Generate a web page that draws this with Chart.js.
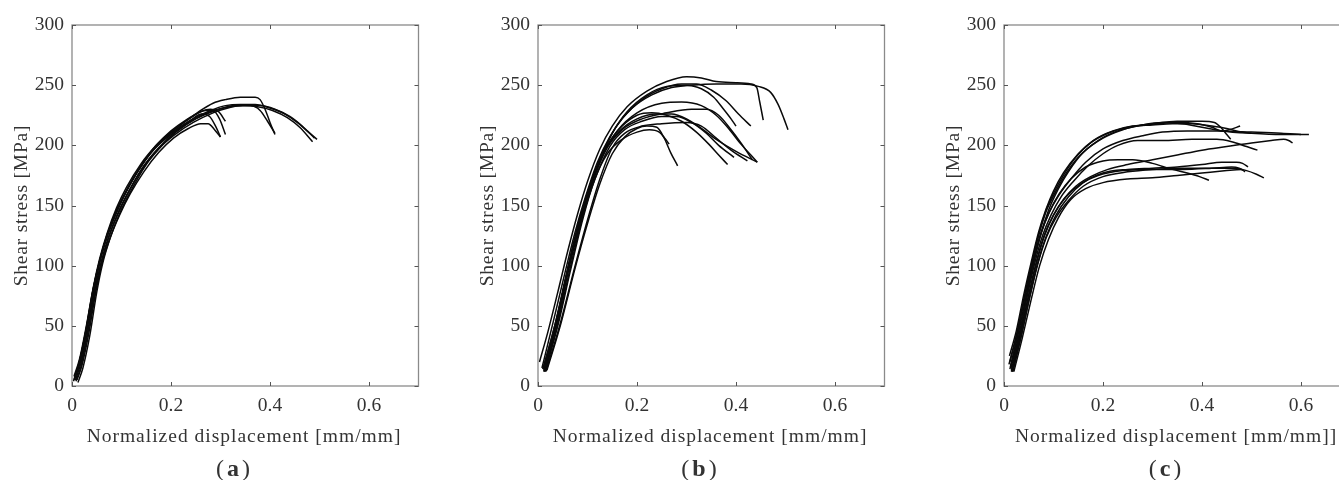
<!DOCTYPE html>
<html>
<head>
<meta charset="utf-8">
<script src="https://cdn.jsdelivr.net/npm/chart.js@4.4.1/dist/chart.umd.min.js"></script>
<style>
  body { margin: 0; width: 1339px; height: 480px; overflow: hidden; background: #fff; position: relative; }
  .panel { position: absolute; top: 0; height: 480px; }
</style>
</head>
<body>
<div class="panel" style="left:0;width:440px"><canvas id="chartA"></canvas></div>
<div class="panel" style="left:466px;width:440px"><canvas id="chartB"></canvas></div>
<div class="panel" style="left:932px;width:490px"><canvas id="chartC"></canvas></div>
<script>
// axis ticks (same for all three panels)
const xTicks = [0, 0.2, 0.4, 0.6];
const yTicks = [0, 50, 100, 150, 200, 250, 300];
const xTitle = 'Normalized displacement [mm/mm]';
const xTitleC = 'Normalized displacement [mm/mm]]';
const yTitle = 'Shear stress [MPa]';

// (a) curves, [displacement, stress]
const curvesA = [
  [[0.004,5],[0.014,18],[0.028,45],[0.042,78],[0.055,102],[0.07,124],[0.09,145],[0.11,162],[0.135,180],[0.165,197],[0.2,210],[0.24,221],[0.28,229],[0.31,233],[0.34,234],[0.37,234],[0.4,231],[0.43,226],[0.455,219],[0.475,212],[0.495,205]],
  [[0.008,4],[0.018,16],[0.032,44],[0.046,77],[0.058,100],[0.073,122],[0.093,143],[0.113,160],[0.14,179],[0.17,195],[0.205,208],[0.245,219],[0.285,227],[0.315,231],[0.345,233],[0.375,232],[0.405,229],[0.435,223],[0.46,215],[0.486,203]],
  [[0.005,7],[0.016,22],[0.03,50],[0.044,83],[0.057,106],[0.072,127],[0.092,148],[0.112,164],[0.138,182],[0.168,199],[0.2,211],[0.23,220],[0.26,229],[0.285,235],[0.31,238],[0.34,240],[0.37,240],[0.38,238],[0.39,230],[0.4,219],[0.41,209]],
  [[0.012,3],[0.022,15],[0.036,42],[0.05,78],[0.062,102],[0.078,124],[0.098,145],[0.12,163],[0.15,184],[0.18,199],[0.21,212],[0.24,221],[0.262,226],[0.278,224],[0.29,216],[0.3,207]],
  [[0.006,6],[0.017,20],[0.031,48],[0.045,80],[0.057,104],[0.073,126],[0.093,147],[0.115,166],[0.145,186],[0.175,201],[0.21,214],[0.24,223],[0.27,229],[0.285,229],[0.298,222],[0.31,209]],
  [[0.004,8],[0.015,22],[0.029,50],[0.043,82],[0.056,106],[0.071,127],[0.09,148],[0.11,165],[0.14,185],[0.17,200],[0.2,212],[0.23,221],[0.26,228],[0.28,230],[0.296,228],[0.31,220]],
  [[0.01,5],[0.02,17],[0.034,44],[0.048,78],[0.06,101],[0.076,122],[0.096,142],[0.118,160],[0.145,178],[0.175,194],[0.205,206],[0.235,214],[0.26,218],[0.275,218],[0.288,213],[0.3,207]],
  [[0.007,5],[0.018,19],[0.032,46],[0.046,79],[0.059,103],[0.074,124],[0.094,145],[0.116,163],[0.145,183],[0.175,198],[0.21,211],[0.25,222],[0.29,229],[0.33,233],[0.36,233],[0.38,229],[0.395,220],[0.41,210]],
  [[0.003,4],[0.013,17],[0.027,44],[0.041,77],[0.054,101],[0.069,123],[0.089,144],[0.109,161],[0.134,179],[0.164,196],[0.2,209],[0.24,220],[0.28,228],[0.32,232],[0.35,233],[0.38,233],[0.41,230],[0.44,224],[0.465,216],[0.49,206]]
];

// (b) curves
const curvesB = [
  [[0.003,20],[0.02,45],[0.04,78],[0.06,112],[0.08,143],[0.1,170],[0.125,197],[0.15,216],[0.18,232],[0.22,245],[0.26,253],[0.3,257],[0.33,256],[0.36,253],[0.4,252],[0.43,251],[0.442,248],[0.448,236],[0.455,221]],
  [[0.01,14],[0.03,44],[0.05,78],[0.07,115],[0.09,147],[0.11,172],[0.135,198],[0.16,217],[0.19,231],[0.23,242],[0.27,248],[0.31,250],[0.36,251],[0.41,251],[0.445,249],[0.47,244],[0.485,234],[0.497,222],[0.505,213]],
  [[0.012,12],[0.035,50],[0.06,96],[0.08,130],[0.1,158],[0.125,188],[0.15,210],[0.18,228],[0.22,242],[0.26,249],[0.3,250],[0.33,247],[0.355,240],[0.375,230],[0.39,222],[0.4,216]],
  [[0.008,15],[0.03,52],[0.055,95],[0.075,128],[0.095,156],[0.12,186],[0.145,207],[0.17,222],[0.21,238],[0.25,247],[0.29,251],[0.32,251],[0.35,246],[0.38,237],[0.405,226],[0.43,216]],
  [[0.012,13],[0.035,50],[0.06,96],[0.085,138],[0.11,170],[0.135,195],[0.16,212],[0.2,227],[0.25,235],[0.29,236],[0.33,233],[0.36,225],[0.385,214],[0.41,201],[0.43,192],[0.443,186]],
  [[0.014,12],[0.04,55],[0.065,102],[0.09,142],[0.115,175],[0.14,198],[0.17,213],[0.21,222],[0.26,227],[0.31,230],[0.34,230],[0.365,225],[0.39,213],[0.41,202],[0.433,188]],
  [[0.012,12],[0.035,48],[0.06,95],[0.085,138],[0.11,172],[0.14,200],[0.17,216],[0.2,225],[0.23,227],[0.26,225],[0.29,220],[0.32,211],[0.345,201],[0.365,192],[0.383,184]],
  [[0.015,13],[0.04,52],[0.065,98],[0.09,140],[0.115,172],[0.145,199],[0.175,213],[0.21,220],[0.25,224],[0.28,224],[0.31,219],[0.34,210],[0.365,200],[0.396,190]],
  [[0.016,12],[0.045,52],[0.075,100],[0.1,138],[0.125,172],[0.15,198],[0.175,210],[0.21,216],[0.25,218],[0.3,219],[0.33,216],[0.36,206],[0.39,196],[0.423,187]],
  [[0.014,12],[0.04,50],[0.065,95],[0.09,138],[0.115,172],[0.14,193],[0.17,205],[0.2,211],[0.225,213],[0.245,211],[0.256,206],[0.265,201]],
  [[0.018,13],[0.045,50],[0.075,98],[0.1,135],[0.125,168],[0.15,193],[0.175,207],[0.2,214],[0.22,216],[0.24,215],[0.255,206],[0.268,194],[0.282,183]],
  [[0.01,14],[0.035,52],[0.06,98],[0.085,140],[0.11,173],[0.135,196],[0.165,212],[0.2,222],[0.24,226],[0.27,226],[0.3,222],[0.33,214],[0.36,205],[0.4,195],[0.443,186]]
];

// (c) curves
const curvesC = [
  [[0.012,14],[0.025,38],[0.04,70],[0.055,100],[0.07,126],[0.085,146],[0.1,160],[0.12,175],[0.145,190],[0.175,202],[0.21,210],[0.25,215],[0.3,218],[0.35,220],[0.4,220],[0.425,219],[0.44,214],[0.45,209],[0.458,205]],
  [[0.015,12],[0.03,40],[0.045,72],[0.06,102],[0.075,127],[0.09,146],[0.11,164],[0.13,178],[0.16,194],[0.2,206],[0.24,213],[0.28,217],[0.32,219],[0.36,218],[0.4,215],[0.44,212],[0.5,210],[0.56,209],[0.616,209]],
  [[0.01,18],[0.025,42],[0.04,72],[0.055,100],[0.07,125],[0.085,145],[0.1,158],[0.12,173],[0.15,190],[0.19,204],[0.23,212],[0.27,216],[0.31,218],[0.35,219],[0.39,218],[0.42,215],[0.44,212],[0.455,213],[0.477,216]],
  [[0.012,20],[0.027,45],[0.043,75],[0.058,102],[0.073,125],[0.09,143],[0.11,158],[0.135,172],[0.165,186],[0.2,197],[0.24,204],[0.28,208],[0.32,211],[0.37,212],[0.43,212],[0.5,211],[0.56,210],[0.6,209]],
  [[0.014,15],[0.03,42],[0.047,75],[0.062,102],[0.078,125],[0.095,142],[0.115,157],[0.14,170],[0.17,183],[0.2,193],[0.23,200],[0.27,204],[0.32,204],[0.38,205],[0.43,205],[0.46,203],[0.49,199],[0.512,196]],
  [[0.016,12],[0.032,40],[0.05,75],[0.066,103],[0.082,125],[0.1,142],[0.12,155],[0.145,166],[0.175,174],[0.21,180],[0.25,184],[0.3,188],[0.35,192],[0.4,196],[0.45,199],[0.5,202],[0.54,204],[0.565,205],[0.575,204],[0.583,202]],
  [[0.013,16],[0.028,42],[0.045,75],[0.06,104],[0.075,127],[0.092,145],[0.112,160],[0.135,172],[0.165,182],[0.2,187],[0.23,188],[0.26,188],[0.3,185],[0.34,180],[0.37,177],[0.395,174],[0.414,171]],
  [[0.018,12],[0.035,42],[0.052,74],[0.068,102],[0.085,124],[0.105,142],[0.13,157],[0.16,169],[0.2,177],[0.25,180],[0.3,181],[0.35,182],[0.4,184],[0.44,186],[0.47,186],[0.482,185],[0.493,182]],
  [[0.015,13],[0.032,42],[0.05,76],[0.066,104],[0.082,126],[0.1,142],[0.125,157],[0.155,168],[0.19,175],[0.24,179],[0.3,180],[0.36,180],[0.42,181],[0.46,182],[0.475,181],[0.487,178]],
  [[0.017,12],[0.034,40],[0.052,74],[0.068,101],[0.085,123],[0.105,140],[0.13,154],[0.16,166],[0.2,174],[0.25,178],[0.3,180],[0.36,181],[0.42,181],[0.46,181],[0.49,179],[0.51,176],[0.525,173]],
  [[0.02,12],[0.037,40],[0.055,72],[0.072,100],[0.09,122],[0.11,140],[0.135,155],[0.165,164],[0.2,169],[0.25,172],[0.3,173],[0.35,175],[0.4,177],[0.45,179],[0.48,180]],
  [[0.011,25],[0.025,46],[0.04,76],[0.055,103],[0.07,128],[0.085,147],[0.1,162],[0.12,177],[0.15,193],[0.18,204],[0.22,212],[0.26,216],[0.3,217],[0.34,218],[0.38,218],[0.42,216],[0.45,214],[0.48,211],[0.5,210]]
];

const textColor = '#333';
const frameColor = '#8a8a8a';
const serif = '"Liberation Serif", "Times New Roman", serif';

// box with inward ticks, axis titles and the (a)/(b)/(c) caption
const panelDeco = {
  id: 'panelDeco',
  afterDraw(chart, args, opts) {
    const ctx = chart.ctx;
    const ca = chart.chartArea;
    const sx = chart.scales.x, sy = chart.scales.y;
    ctx.save();
    ctx.strokeStyle = frameColor;
    ctx.lineWidth = 1.3;
    ctx.strokeRect(ca.left, ca.top, ca.right - ca.left, ca.bottom - ca.top);
    ctx.beginPath();
    ctx.strokeStyle = '#555';
    ctx.lineWidth = 1;
    xTicks.forEach(v => {
      const px = Math.round(sx.getPixelForValue(v)) + 0.5;
      ctx.moveTo(px, ca.bottom); ctx.lineTo(px, ca.bottom - 4);
      ctx.moveTo(px, ca.top); ctx.lineTo(px, ca.top + 4);
    });
    yTicks.forEach(v => {
      const py = Math.round(sy.getPixelForValue(v)) + 0.5;
      ctx.moveTo(ca.left, py); ctx.lineTo(ca.left + 4, py);
      ctx.moveTo(ca.right, py); ctx.lineTo(ca.right - 4, py);
    });
    ctx.stroke();

    ctx.fillStyle = textColor;
    ctx.textBaseline = 'alphabetic';
    ctx.textAlign = 'center';
    ctx.font = '19.5px ' + serif;
    ctx.letterSpacing = '1px';
    ctx.fillText(opts.xTitle, 244, 442);

    ctx.save();
    ctx.letterSpacing = '0.8px';
    ctx.textBaseline = 'middle';
    ctx.translate(22, (ca.top + ca.bottom) / 2);
    ctx.rotate(-Math.PI / 2);
    ctx.fillText(yTitle, 0, 0);
    ctx.restore();

    // caption: regular parentheses round a bold letter
    ctx.letterSpacing = '0px';
    ctx.textAlign = 'left';
    const reg = '24px ' + serif, bold = 'bold 24px ' + serif;
    ctx.font = reg; const wp = ctx.measureText('(').width;
    ctx.font = bold; const wl = ctx.measureText(opts.caption).width;
    const gap = 3;
    let cx = 233 - (2 * wp + wl + 2 * gap) / 2;
    ctx.font = reg; ctx.fillText('(', cx, 476);
    cx += wp + gap;
    ctx.font = bold; ctx.fillText(opts.caption, cx, 476);
    cx += wl + gap;
    ctx.font = reg; ctx.fillText(')', cx, 476);
    ctx.restore();
  }
};

function makePanel(id, curves, caption, title, padRight) {
  const ctx = document.getElementById(id).getContext('2d');
  return new Chart(ctx, {
    type: 'line',
    data: {
      datasets: curves.map(c => ({
        data: c,
        borderColor: '#0a0a0a',
        borderWidth: 1.5,
        pointRadius: 0,
        fill: false,
        cubicInterpolationMode: 'monotone'
      }))
    },
    options: {
      responsive: true,
      maintainAspectRatio: false,
      animation: false,
      events: [],
      layout: { padding: { top: 25, right: padRight, bottom: 0, left: 0 } },
      plugins: {
        legend: { display: false },
        tooltip: { enabled: false },
        panelDeco: { caption: caption, xTitle: title }
      },
      scales: {
        x: {
          type: 'linear',
          min: 0, max: 0.7,
          grid: { display: false, drawTicks: false },
          border: { display: false },
          afterBuildTicks: s => { s.ticks = xTicks.map(v => ({ value: v })); },
          afterFit: s => { s.height = 94; },
          ticks: {
            padding: 8,
            color: textColor,
            font: { family: serif, size: 19.5 },
            maxRotation: 0,
            callback: v => String(v)
          }
        },
        y: {
          min: 0, max: 300,
          grid: { display: false, drawTicks: false },
          border: { display: false },
          afterBuildTicks: s => { s.ticks = yTicks.map(v => ({ value: v })); },
          afterFit: s => { s.width = 72; },
          ticks: {
            padding: 8,
            color: textColor,
            font: { family: serif, size: 19.5 }
          }
        }
      }
    },
    plugins: [panelDeco]
  });
}

makePanel('chartA', curvesA, 'a', xTitle, 21.5);
makePanel('chartB', curvesB, 'b', xTitle, 21.5);
makePanel('chartC', curvesC, 'c', xTitleC, 71.5);
</script>
</body>
</html>
